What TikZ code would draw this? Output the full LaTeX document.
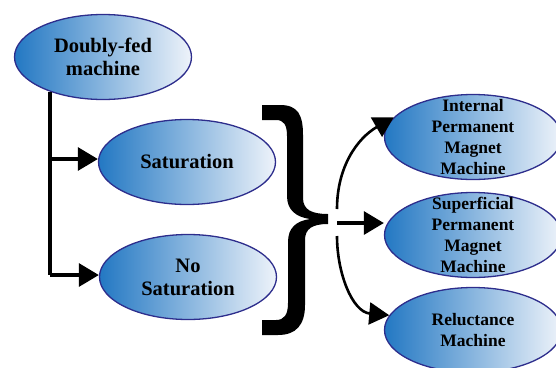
\documentclass[tikz,border=0pt]{standalone}
\usepackage{fontspec}
\setmainfont{Liberation Serif}
\usetikzlibrary{shapes.geometric,arrows.meta}
\definecolor{navy}{RGB}{45,45,140}
\definecolor{deepblue}{RGB}{35,120,195}
\definecolor{paleblue}{RGB}{238,243,250}
\tikzset{
	mach/.style={ellipse, draw=navy, line width=1.3pt, left color=deepblue, right color=paleblue,
		minimum width=177pt, minimum height=85pt, inner sep=0pt},
	bigtxt/.style={font=\bfseries\fontsize{20.5}{23}\selectfont, align=center},
	smalltxt/.style={font=\bfseries\fontsize{17.5}{21}\selectfont, align=center},
	conn/.style={line width=3.2pt, -{Triangle[length=20pt,width=23pt]}},
	arc/.style={line width=2.6pt, -{Triangle[length=20pt,width=22pt]}}
}
\begin{document}
\begin{tikzpicture}[x=1pt,y=-1pt]
	\useasboundingbox (0,0) rectangle (556,367);
	\node (dfm)   at (103, 57)	[mach, label={[bigtxt]center:Doubly-fed\\machine}]	{};
	\node (sat)   at (187,162)	[mach, label={[bigtxt]center:Saturation}]	{};
	\node (nosat) at (188,277)	[mach, label={[bigtxt]center:No\\Saturation}]	{};
	\node (ipm)   at (473,137)	[mach, label={[smalltxt]center:Internal\\Permanent\\Magnet\\Machine}]	{};
	\node (spm)   at (473,235)	[mach, label={[smalltxt]center:Superficial\\Permanent\\Magnet\\Machine}]	{};
	\node (rel)   at (473,330)	[mach, label={[smalltxt]center:Reluctance\\Machine}]	{};
	\coordinate (trunk) at (50,92);
	\coordinate (fork)  at (337,223);
	\coordinate (forkup) at (337,209);
	\coordinate (forkdn) at (337,236);
	\draw[line width=3.2pt] (trunk) -- (50,275);
	\draw[conn] (50,159) -- (sat.west |- 50,159);
	\draw[conn] (50,275) -- (nosat.west |- 50,275);
	% the big brace
	\fill (262,105) -- (280,105) .. controls (298,105) and (303,115) .. (303,135) -- (303,198)
		.. controls (303,210) and (312,214) .. (328,214) -- (328,224)
		.. controls (312,224) and (305,229) .. (305,240) -- (305,305)
		.. controls (305,325) and (296,335) .. (278,335) -- (262,335) -- (262,320) -- (276,320)
		.. controls (284,320) and (288,315) .. (288,303) -- (288,242)
		.. controls (288,228) and (296,221) .. (310,219)
		.. controls (296,217) and (287,210) .. (287,196) -- (287,136)
		.. controls (287,125) and (284,120) .. (276,120) -- (262,120) -- cycle;
	\draw[conn] (fork) -- (fork -| spm.west);
	\draw[arc] (forkup) to[out=90, in=210] (ipm.166);
	\draw[arc] (forkdn) to[out=-90, in=175] (rel.170);
\end{tikzpicture}
\end{document}
